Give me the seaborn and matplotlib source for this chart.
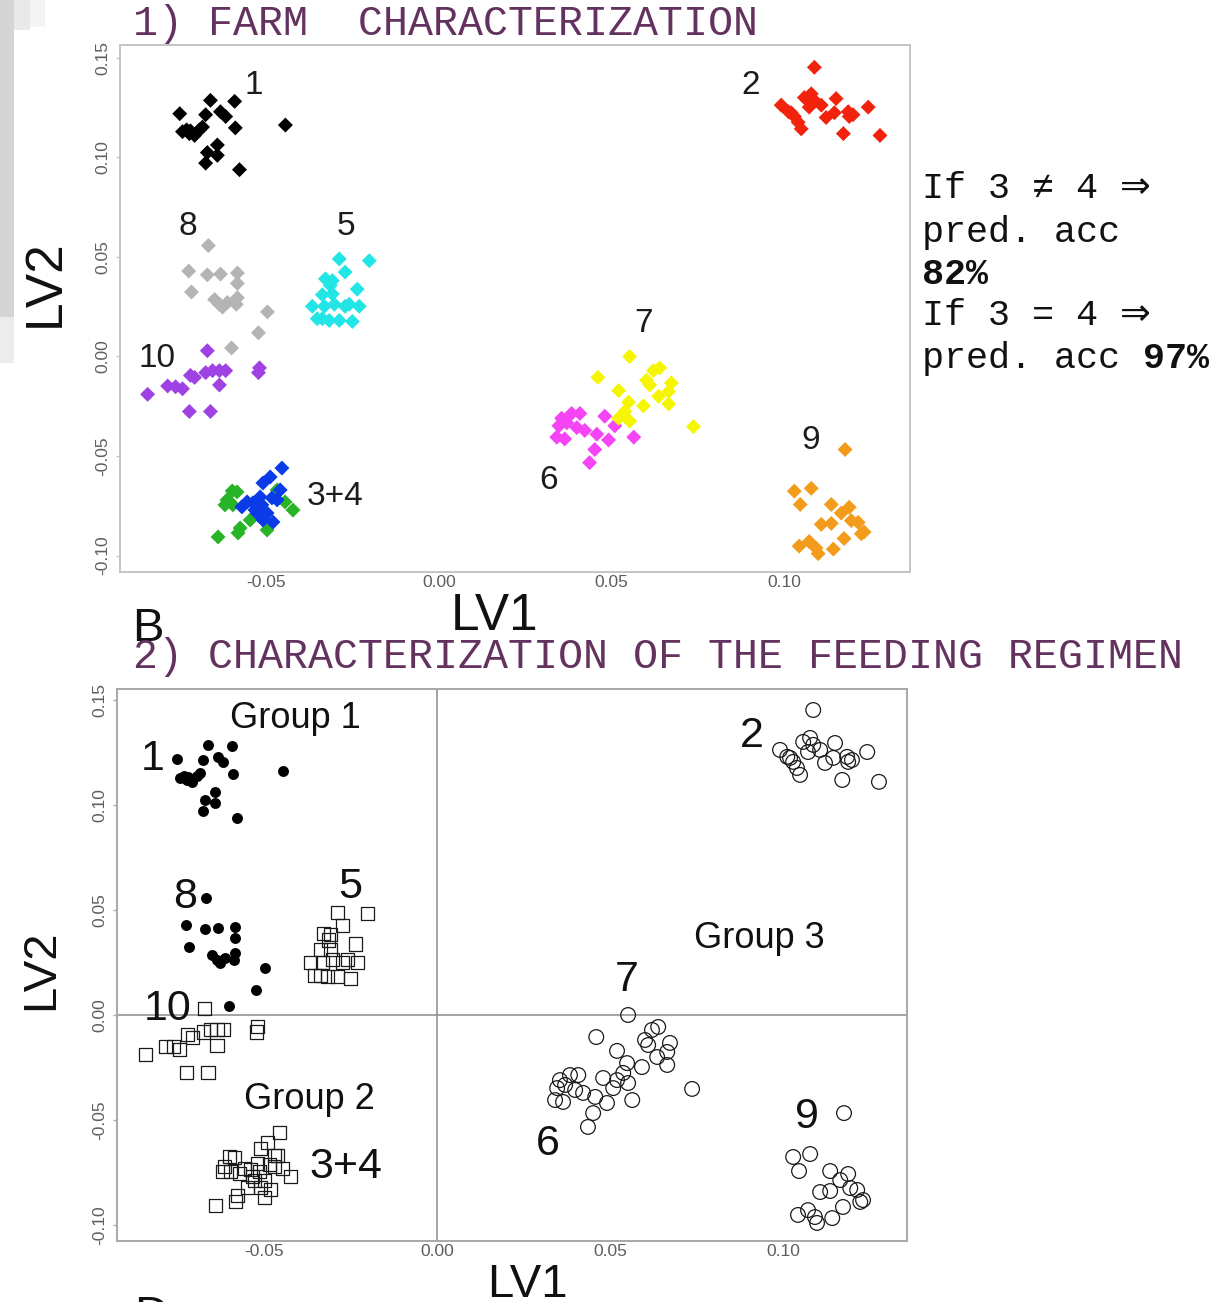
import matplotlib
matplotlib.use("Agg")
import matplotlib.pyplot as plt
from matplotlib.patches import Rectangle
import pandas as pd
import seaborn as sns

# ---------------- LV1 / LV2 scores of the animals, per farm ----------------
farm1_lv1 = [-0.0751, -0.0662, -0.0592, -0.0676, -0.0633, -0.0618, -0.0590, -0.0743, -0.0723, -0.0720,
             -0.0708, -0.0685, -0.0642, -0.0671, -0.0642, -0.0676, -0.0578, -0.0445, -0.0731, -0.0694]
farm1_lv2 = [0.1219, 0.1286, 0.1281, 0.1214, 0.1229, 0.1205, 0.1148, 0.1129, 0.1119, 0.1133,
             0.1110, 0.1152, 0.1062, 0.1024, 0.1010, 0.0971, 0.0938, 0.1162, 0.1138, 0.1138]

farm2_lv1 = [0.1087, 0.0991, 0.1012, 0.1029, 0.1040, 0.1049, 0.1058, 0.1078, 0.1072, 0.1107, 0.1121,
             0.1150, 0.1145, 0.1171, 0.1185, 0.1188, 0.1199, 0.1243, 0.1277, 0.1020, 0.1087]
farm2_lv2 = [0.1452, 0.1262, 0.1229, 0.1205, 0.1176, 0.1143, 0.1300, 0.1319, 0.1252, 0.1262, 0.1200,
             0.1295, 0.1224, 0.1119, 0.1229, 0.1205, 0.1214, 0.1252, 0.1110, 0.1224, 0.1286]

farm3_lv1 = [-0.0599, -0.0614, -0.0597, -0.0640, -0.0582, -0.0576, -0.0498, -0.0446, -0.0423, -0.0469,
             -0.0585, -0.0547, -0.0620]
farm3_lv2 = [-0.0675, -0.0720, -0.0745, -0.0906, -0.0886, -0.0861, -0.0871, -0.0730, -0.0771, -0.0670,
             -0.0680, -0.0821, -0.0745]

farm4_lv1 = [-0.0455, -0.0489, -0.0510, -0.0518, -0.0539, -0.0556, -0.0571, -0.0527, -0.0498, -0.0510,
             -0.0481, -0.0469, -0.0484, -0.0513, -0.0533, -0.0460]
farm4_lv2 = [-0.0560, -0.0605, -0.0635, -0.0705, -0.0735, -0.0730, -0.0755, -0.0786, -0.0786, -0.0821,
             -0.0831, -0.0720, -0.0710, -0.0745, -0.0770, -0.0670]

farm5_lv1 = [-0.0289, -0.0202, -0.0272, -0.0329, -0.0309, -0.0315, -0.0237, -0.0338, -0.0309, -0.0367,
             -0.0332, -0.0303, -0.0272, -0.0231, -0.0338, -0.0318, -0.0289, -0.0251, -0.0353, -0.0260]
farm5_lv2 = [0.0490, 0.0481, 0.0424, 0.0390, 0.0381, 0.0357, 0.0338, 0.0310, 0.0314, 0.0252,
             0.0252, 0.0262, 0.0252, 0.0252, 0.0190, 0.0181, 0.0181, 0.0176, 0.0190, 0.0262]

farm6_lv1 = [0.0564, 0.0480, 0.0509, 0.0491, 0.0457, 0.0451, 0.0436, 0.0422, 0.0384, 0.0408,
             0.0355, 0.0347, 0.0341, 0.0364, 0.0399, 0.0370]
farm6_lv2 = [-0.0405, -0.0300, -0.0348, -0.0419, -0.0390, -0.0467, -0.0533, -0.0371, -0.0286, -0.0286,
             -0.0310, -0.0348, -0.0405, -0.0414, -0.0357, -0.0333]

farm7_lv1 = [0.0552, 0.0460, 0.0520, 0.0621, 0.0639, 0.0601, 0.0673, 0.0665, 0.0665, 0.0636,
             0.0592, 0.0549, 0.0538, 0.0520, 0.0552, 0.0737, 0.0610]
farm7_lv2 = [0.0000, -0.0105, -0.0171, -0.0071, -0.0057, -0.0119, -0.0133, -0.0176, -0.0238, -0.0200,
             -0.0248, -0.0229, -0.0276, -0.0310, -0.0324, -0.0352, -0.0143]

farm8_lv1 = [-0.0668, -0.0725, -0.0671, -0.0633, -0.0584, -0.0584, -0.0717, -0.0650, -0.0636, -0.0627,
             -0.0613, -0.0584, -0.0587, -0.0497, -0.0523, -0.0601]
farm8_lv2 = [0.0557, 0.0429, 0.0410, 0.0414, 0.0419, 0.0367, 0.0324, 0.0286, 0.0262, 0.0248,
             0.0271, 0.0295, 0.0262, 0.0224, 0.0119, 0.0043]

farm9_lv1 = [0.1176, 0.1029, 0.1078, 0.1046, 0.1136, 0.1188, 0.1165, 0.1194, 0.1214, 0.1107,
             0.1136, 0.1231, 0.1173, 0.1043, 0.1072, 0.1092, 0.1098, 0.1142, 0.1223]
farm9_lv2 = [-0.0467, -0.0676, -0.0662, -0.0743, -0.0743, -0.0757, -0.0786, -0.0824, -0.0833, -0.0843,
             -0.0838, -0.0881, -0.0914, -0.0952, -0.0929, -0.0962, -0.0990, -0.0967, -0.0890]

farm10_lv1 = [-0.0671, -0.0844, -0.0786, -0.0763, -0.0743, -0.0720, -0.0708, -0.0676, -0.0656, -0.0636,
              -0.0618, -0.0636, -0.0723, -0.0662, -0.0520, -0.0523]
farm10_lv2 = [0.0029, -0.0190, -0.0148, -0.0152, -0.0162, -0.0095, -0.0105, -0.0081, -0.0071, -0.0071,
              -0.0071, -0.0143, -0.0276, -0.0276, -0.0057, -0.0081]

farm_ids = ["1", "2", "3", "4", "5", "6", "7", "8", "9", "10"]
farm_colors = ["#000000", "#f2230c", "#27b427", "#0b3be6", "#22e6e6",
               "#f444f4", "#f6f600", "#b4b4b4", "#f39c1c", "#9f42e4"]

# feeding-regimen groups
group1_farms = ["1", "8"]
group2_farms = ["3", "4", "5", "10"]
group3_farms = ["2", "6", "7", "9"]

# labels (text, LV1, LV2)
farm_labels_top = [("1", -0.0536, 0.1378), ("2", 0.0901, 0.1378), ("8", -0.0727, 0.0670),
                   ("5", -0.0269, 0.0670), ("10", -0.0817, 0.0008), ("7", 0.0591, 0.0183),
                   ("6", 0.0316, -0.0605), ("9", 0.1077, -0.0404), ("3+4", -0.0301, -0.0685)]
farm_labels_bottom = [("1", -0.0821, 0.1238), ("8", -0.0728, 0.0581), ("5", -0.0251, 0.0633),
                      ("10", -0.0780, 0.0048), ("3+4", -0.0263, -0.0700), ("2", 0.0910, 0.1352),
                      ("7", 0.0549, 0.0190), ("6", 0.0321, -0.0595), ("9", 0.1069, -0.0462)]
group_labels = [("Group 1", -0.0410, 0.1429), ("Group 2", -0.0370, -0.0381), ("Group 3", 0.0931, 0.0381)]

x_ticks = [-0.05, 0.00, 0.05, 0.10]
x_tick_labels = ["-0.05", "0.00", "0.05", "0.10"]
y_ticks = [-0.10, -0.05, 0.00, 0.05, 0.10, 0.15]
y_tick_labels = ["-0.10", "-0.05", "0.00", "0.05", "0.10", "0.15"]

# ---------------- tidy table ----------------
lv1_cols = [farm1_lv1, farm2_lv1, farm3_lv1, farm4_lv1, farm5_lv1,
            farm6_lv1, farm7_lv1, farm8_lv1, farm9_lv1, farm10_lv1]
lv2_cols = [farm1_lv2, farm2_lv2, farm3_lv2, farm4_lv2, farm5_lv2,
            farm6_lv2, farm7_lv2, farm8_lv2, farm9_lv2, farm10_lv2]
frames = [pd.DataFrame({"LV1": a, "LV2": b, "farm": f}) for f, a, b in zip(farm_ids, lv1_cols, lv2_cols)]
df = pd.concat(frames, ignore_index=True)

# ---------------- figure ----------------
sns.set_theme(style="white")
plt.rcParams["font.family"] = ["Liberation Sans", "DejaVu Sans"]
W, H = 1216, 1302
fig = plt.figure(figsize=(W / 100, H / 100), dpi=100)
fig.patch.set_facecolor("white")


def fx(px):
    return px / W


def fy(py):
    return 1 - py / H


def style_axes(ax, spine_col, xlim, ylim):
    ax.set_xlim(*xlim)
    ax.set_ylim(*ylim)
    ax.set_xticks(x_ticks)
    ax.set_xticklabels(x_tick_labels)
    ax.set_yticks(y_ticks)
    ax.set_yticklabels(y_tick_labels)
    for sp in ax.spines.values():
        sp.set_visible(True)
        sp.set_color(spine_col)
        sp.set_linewidth(1.4)
    ax.tick_params(axis="x", length=0, pad=2, labelsize=12.5, labelcolor="#5e5e5e")
    ax.tick_params(axis="y", length=3, width=1, color=spine_col, pad=4, labelsize=12.5,
                   labelcolor="#5e5e5e", labelrotation=90, left=True)
    for lab in ax.get_yticklabels():
        lab.set_va("center")
    ax.set_xlabel("")
    ax.set_ylabel("")
    ax.grid(False)


# ---- panel 1: farm characterization ----
ax1 = fig.add_axes([fx(120), fy(572), fx(910) - fx(120), fy(45) - fy(572)])
sns.scatterplot(data=df, x="LV1", y="LV2", hue="farm", hue_order=farm_ids,
                palette=dict(zip(farm_ids, farm_colors)), marker="D", s=58,
                linewidth=0, legend=False, ax=ax1)
style_axes(ax1, "#c4c4c4", (-0.0924, 0.1364), (-0.1082, 0.1564))
for t, x, y in farm_labels_top:
    ax1.text(x, y, t, ha="center", va="center_baseline", fontsize=24, color="#1c1c1c")

# ---- panel 2: feeding regimen ----
ax2 = fig.add_axes([fx(117), fy(1241), fx(907) - fx(117), fy(689) - fy(1241)])
ax2.axhline(0, color="#8c8c8c", lw=1.1, zorder=0)
ax2.axvline(0, color="#8c8c8c", lw=1.1, zorder=0)

g1 = df[df["farm"].isin(group1_farms)]
g2 = df[df["farm"].isin(group2_farms)]
g3 = df[df["farm"].isin(group3_farms)]

sns.scatterplot(data=g1, x="LV1", y="LV2", marker="o", s=62, color="black",
                linewidth=0, legend=False, ax=ax2)
sns.scatterplot(data=g2, x="LV1", y="LV2", marker="s", s=88, color="black",
                legend=False, ax=ax2)
coll = ax2.collections[-1]
coll.set_facecolor("none")
coll.set_edgecolor("#1a1a1a")
coll.set_linewidth(0.9)
sns.scatterplot(data=g3, x="LV1", y="LV2", marker="o", s=112, color="black",
                legend=False, ax=ax2)
coll = ax2.collections[-1]
coll.set_facecolor("none")
coll.set_edgecolor("#1a1a1a")
coll.set_linewidth(0.9)

style_axes(ax2, "#a8a8a8", (-0.0925, 0.1358), (-0.1076, 0.1552))
for t, x, y in farm_labels_bottom:
    ax2.text(x, y, t, ha="center", va="center_baseline", fontsize=31, color="#111111")
for t, x, y in group_labels:
    ax2.text(x, y, t, ha="center", va="center_baseline", fontsize=26, color="#111111")

# ---- axis titles ----
fig.text(fx(45), fy(283), "LV2", rotation=90, ha="center", va="center", fontsize=37, color="#111111")
fig.text(fx(495), fy(616), "LV1", ha="center", va="center", fontsize=37, color="#111111")
fig.text(fx(41), fy(970), "LV2", rotation=90, ha="center", va="center", fontsize=34, color="#111111")
fig.text(fx(527), fy(1263), "LV1", ha="center", va="top", fontsize=34, color="#111111")

# panel letters, partly hidden behind the section heading / page edge
fig.text(fx(132), fy(607), "B", ha="left", va="top", fontsize=34, color="#111111", zorder=3)
fig.text(fx(134), fy(1295), "D", ha="left", va="top", fontsize=34, color="#111111", zorder=3)
fig.add_artist(Rectangle((fx(125), fy(680)), fx(1195) - fx(125), fy(641) - fy(680),
                         transform=fig.transFigure, facecolor="white", edgecolor="none", zorder=4))

# ---- section headings ----
mono = ["Liberation Mono", "DejaVu Sans"]
head_col = "#64325f"
fig.text(fx(133), fy(35), "1) FARM  CHARACTERIZATION", family=mono, fontsize=30,
         color=head_col, ha="left", va="baseline", zorder=5)
fig.text(fx(133), fy(668), "2) CHARACTERIZATION OF THE FEEDING REGIMEN", family=mono, fontsize=30,
         color=head_col, ha="left", va="baseline", zorder=5)

# ---- prediction accuracy note ----
note_fs = 26.5
adv = 0.6 * note_fs * 100 / 72
nx = 922
fig.text(fx(nx), fy(198), "If 3 \u2260 4 \u21d2", family=mono, fontsize=note_fs, color="#111111", va="baseline")
fig.text(fx(nx), fy(242), "pred. acc", family=mono, fontsize=note_fs, color="#111111", va="baseline")
fig.text(fx(nx), fy(284), "82%", family=mono, fontsize=note_fs, fontweight="bold", color="#111111", va="baseline")
fig.text(fx(nx), fy(325), "If 3 = 4 \u21d2", family=mono, fontsize=note_fs, color="#111111", va="baseline")
fig.text(fx(nx), fy(368), "pred. acc", family=mono, fontsize=note_fs, color="#111111", va="baseline")
fig.text(fx(nx + 10 * adv), fy(368), "97%", family=mono, fontsize=note_fs, fontweight="bold",
         color="#111111", va="baseline")

# ---- page edge shading at the left ----
for (x0, y0, x1, y1, c) in [(0, 0, 14, 317, "#d5d5d5"), (0, 317, 14, 363, "#ececec"),
                            (14, 0, 30, 30, "#e9e9e9"), (30, 0, 45, 27, "#f4f4f4")]:
    fig.add_artist(Rectangle((fx(x0), fy(y1)), fx(x1) - fx(x0), fy(y0) - fy(y1),
                             transform=fig.transFigure, facecolor=c, edgecolor="none", zorder=0))

fig.savefig("out.png", dpi=100, facecolor="white")
